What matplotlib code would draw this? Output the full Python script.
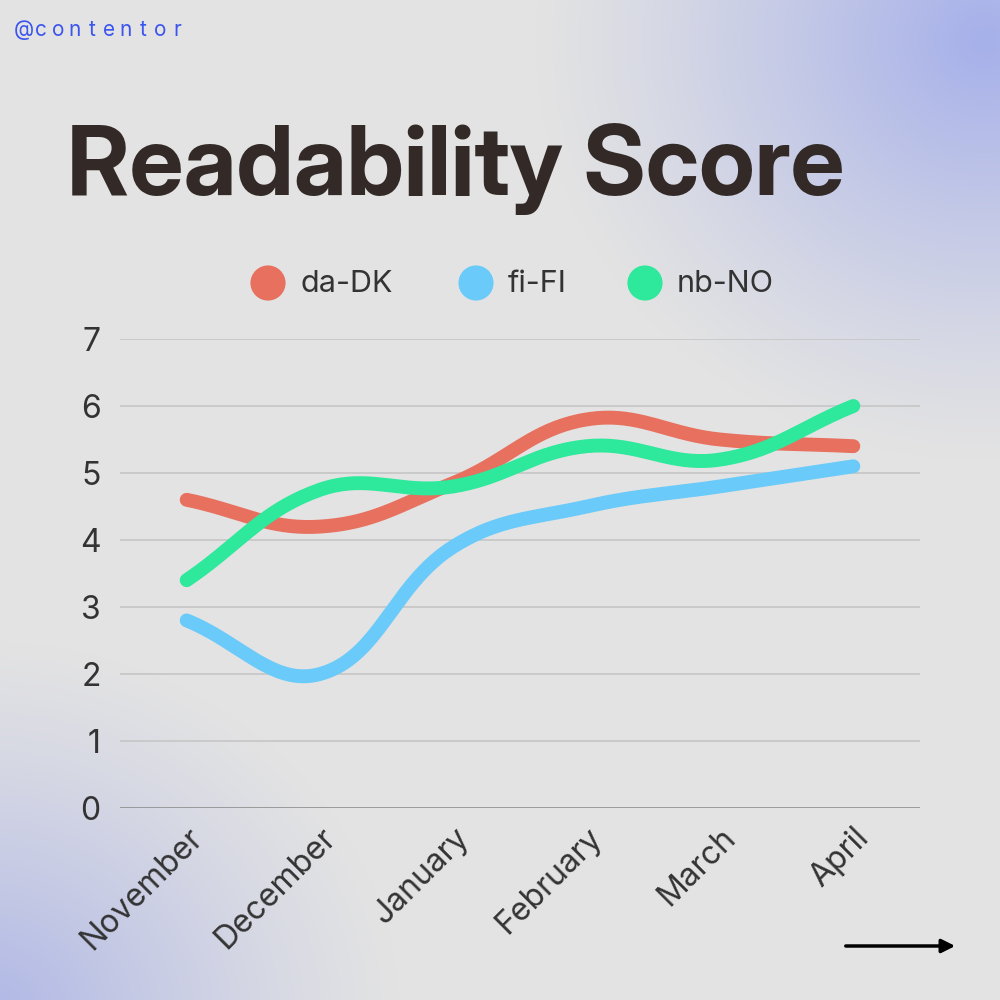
import numpy as np
import matplotlib
matplotlib.use("Agg")
import matplotlib.pyplot as plt

plt.rcParams['font.family'] = ['Inter', 'DejaVu Sans']

# data
months = ['November', 'December', 'January', 'February', 'March', 'April']
da_dk = [4.6, 4.2, 4.85, 5.8, 5.5, 5.4]
fi_fi = [2.8, 2.0, 3.9, 4.5, 4.8, 5.1]
nb_no = [3.4, 4.75, 4.8, 5.4, 5.2, 6.0]
series = [('da-DK', da_dk, '#e8705e'), ('fi-FI', fi_fi, '#6acaf9'), ('nb-NO', nb_no, '#2ee89c')]
y_ticks = [0, 1, 2, 3, 4, 5, 6, 7]

BG = np.array([227, 227, 227]) / 255.


def spline(xs, ys, sx, sy, tension=0.4, n=40):
    # chart.js style bezier spline, distances measured in pixel space
    p = np.column_stack([np.asarray(xs) * sx, np.asarray(ys) * sy])
    m = len(p)
    cps = []
    for i in range(m):
        prev = p[max(i - 1, 0)]
        cur = p[i]
        nxt = p[min(i + 1, m - 1)]
        d01 = np.hypot(*(cur - prev))
        d12 = np.hypot(*(nxt - cur))
        tot = d01 + d12
        s01 = d01 / tot if tot else 0
        s12 = d12 / tot if tot else 0
        c1 = cur - tension * s01 * (nxt - prev)
        c2 = cur + tension * s12 * (nxt - prev)
        cps.append((c1, c2))
    out = [p[0]]
    t = np.linspace(0, 1, n)[1:, None]
    for i in range(m - 1):
        a, b = p[i], p[i + 1]
        c, d = cps[i][1], cps[i + 1][0]
        seg = (1 - t) ** 3 * a + 3 * (1 - t) ** 2 * t * c + 3 * (1 - t) * t ** 2 * d + t ** 3 * b
        out.extend(seg)
    out = np.array(out)
    return out[:, 0] / sx, out[:, 1] / sy


fig = plt.figure(figsize=(10, 10), dpi=100)

# background with soft corner gradients
bg = fig.add_axes([0, 0, 1, 1])
yy, xx = np.mgrid[0:1000, 0:1000]
img = np.ones((1000, 1000, 3)) * BG
tr = np.clip(1 - np.hypot((xx - 985) / 450., (yy - 40) / 420.), 0, 1) ** 1.2
bl = np.clip(1 - np.hypot((xx + 20) / 420., (yy - 1020) / 380.), 0, 1) ** 1.2
c_tr = np.array([166, 176, 234]) / 255.
c_bl = np.array([174, 182, 230]) / 255.
img = img * (1 - tr[..., None]) + c_tr * tr[..., None]
img = img * (1 - bl[..., None]) + c_bl * bl[..., None]
bg.imshow(img, extent=[0, 1000, 1000, 0], aspect='auto')
bg.set_xlim(0, 1000)
bg.set_ylim(1000, 0)
bg.axis('off')

# handle with letter spacing
handle = '@contentor'
hx = 24
for ch in handle:
    bg.text(hx, 30, ch, fontsize=15, color='#3b55ee', ha='center', va='center')
    hx += 17.0

bg.text(67, 195, 'Readability Score', fontsize=69, fontweight='bold', family='Inter Display',
        color='#332a28', ha='left', va='baseline')

# legend
leg_x = [268, 476, 645]
for (name, _, col), lx in zip(series, leg_x):
    bg.scatter([lx], [283], s=640, color=col, edgecolor='none')
    bg.text(lx + 32, 284, name, fontsize=22, color='#333333', ha='left', va='center')

# arrow bottom right
bg.annotate('', xy=(958, 946), xytext=(843, 946),
            arrowprops=dict(arrowstyle='-|>', color='black', lw=2.5, mutation_scale=20))

ax = fig.add_axes([0.12, 0.192, 0.80, 0.469])
ax.patch.set_alpha(0)
ax.set_xlim(-0.5, len(months) - 0.5)
ax.set_ylim(0, 7)
ax.set_yticks(y_ticks)
for v in y_ticks[1:]:
    ax.axhline(v, color='#c6c6c6', lw=1.2, zorder=1)
ax.axhline(0, color='#8f8f8f', lw=1.2, zorder=1)
for s in ax.spines.values():
    s.set_visible(False)
ax.tick_params(axis='y', length=0, pad=14, labelsize=23, labelcolor='#333333')
ax.tick_params(axis='x', length=0, pad=10, labelsize=23, labelcolor='#333333')
ax.set_xticks(range(len(months)))
ax.set_xticklabels(months, rotation=45, ha='right', rotation_mode='anchor')

xs = np.arange(len(months))
for name, vals, col in series:
    sx_, sy_ = spline(xs, vals, 133.3, 67.0)
    ax.plot(sx_, sy_, color=col, lw=10, solid_capstyle='round', solid_joinstyle='round',
            zorder=3, clip_on=False)

fig.savefig('out.png', dpi=100)
